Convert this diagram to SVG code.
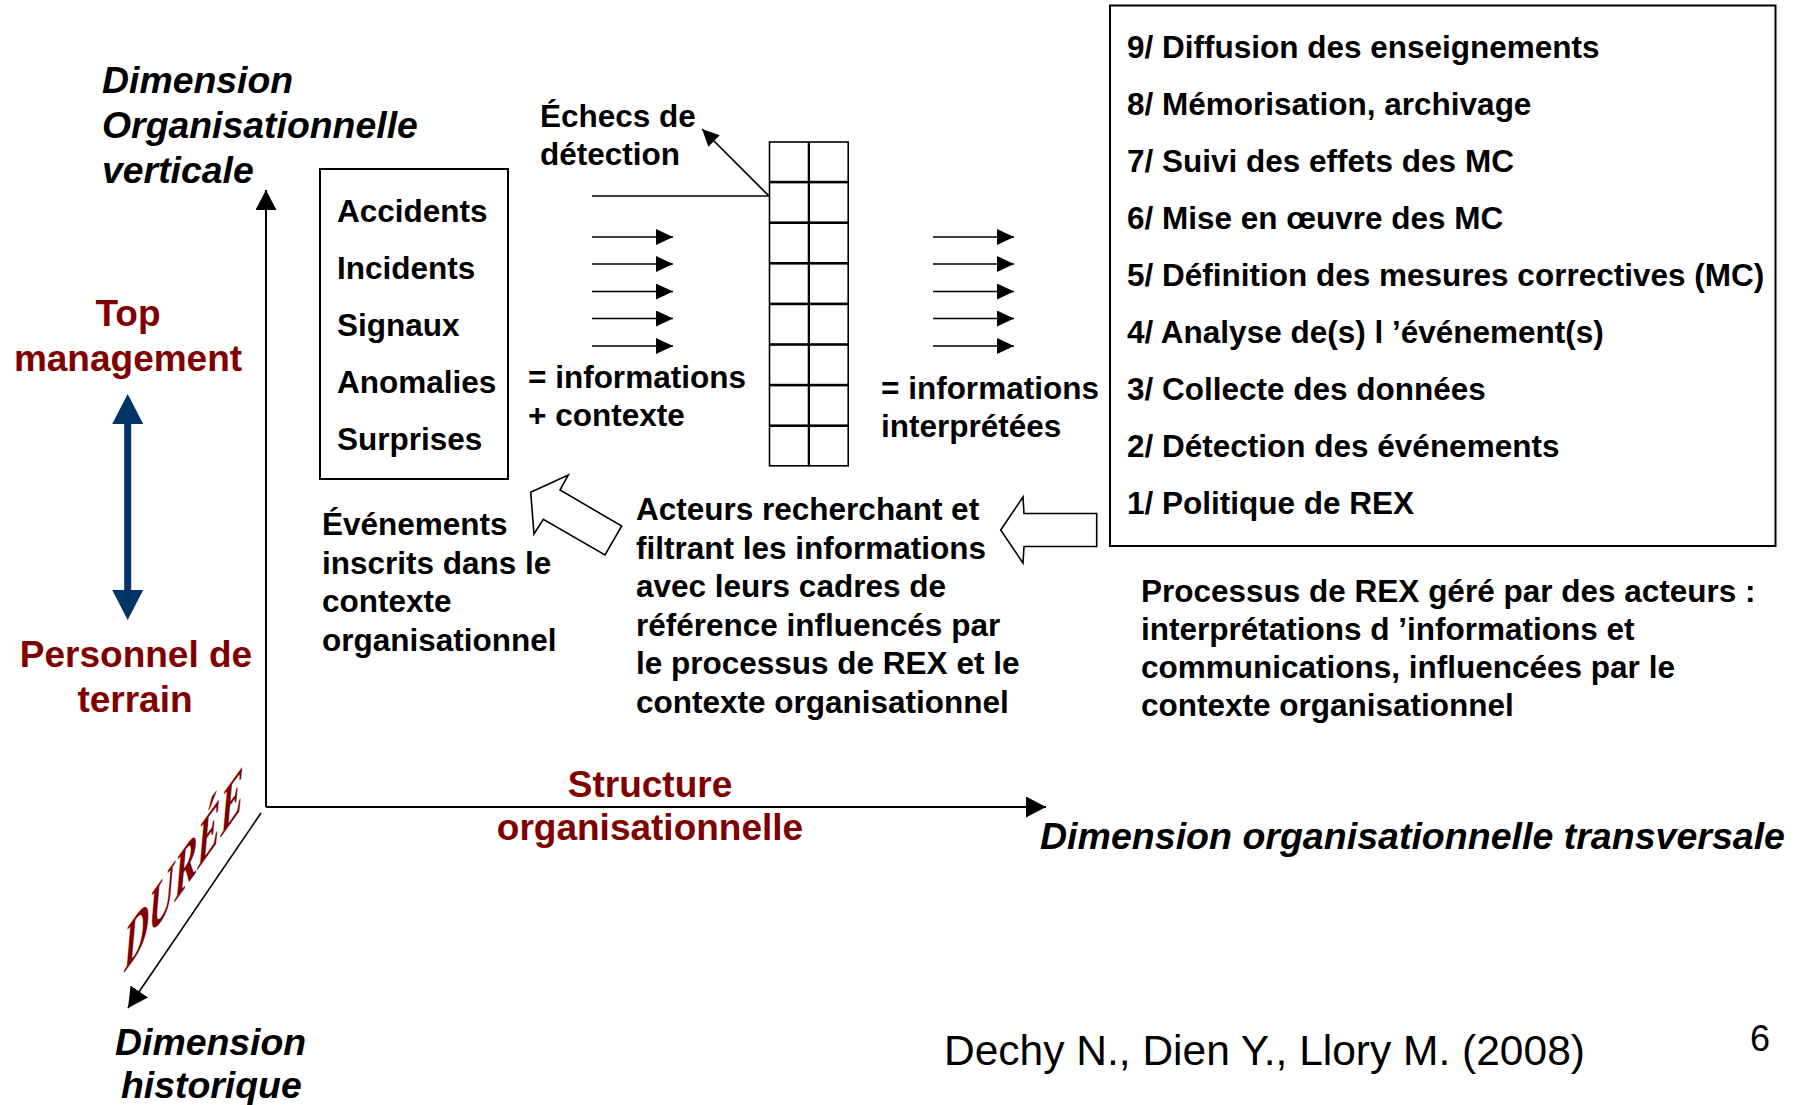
<svg xmlns="http://www.w3.org/2000/svg" width="1806" height="1105" viewBox="0 0 1806 1105">
<style>
text { font-family: "Liberation Sans", Arial, sans-serif; }
.b { font-weight: bold; font-size: 31.5px; fill: #000; }
.bi { font-weight: bold; font-style: italic; font-size: 37.4px; fill: #000; }
.red { font-weight: bold; font-size: 37px; fill: #800000; }
.reg { font-size: 42.5px; fill: #000; }
.duree { font-family: "Liberation Serif", "Times New Roman", serif; font-style: italic; font-weight: bold; font-size: 62px; fill: #800000; }
.box { fill: #fff; stroke: #000; stroke-width: 2; }
.cell { fill: #fff; stroke: #000; stroke-width: 1.6; }
.ln { fill: none; stroke: #000; stroke-width: 2; }
.thin { fill: none; stroke: #000; stroke-width: 1.6; }
.hollow { fill: #fff; stroke: #000; stroke-width: 1.6; stroke-linejoin: miter; }
</style>
<defs>
<marker id="ah" markerUnits="userSpaceOnUse" markerWidth="17" markerHeight="16" refX="17" refY="8" orient="auto"><path d="M0,0 L17,8 L0,16 z" fill="#000"/></marker>
<marker id="axis" markerUnits="userSpaceOnUse" markerWidth="21" markerHeight="21" refX="20" refY="10.5" orient="auto"><path d="M0,0 L20,10.5 L0,21 z" fill="#000"/></marker>
</defs>

<g id="connectors">
  <line class="ln" x1="266" y1="807" x2="266" y2="190" marker-end="url(#axis)"/>
  <line class="ln" x1="266" y1="807" x2="1046" y2="807" marker-end="url(#axis)"/>
  <line class="thin" x1="261" y1="813" x2="128" y2="1008" marker-end="url(#axis)"/>
  <path class="thin" d="M592,196 H769 L702,129" marker-end="url(#ah)"/>
  <line class="thin" x1="592" y1="237" x2="673" y2="237" marker-end="url(#ah)"/>
  <line class="thin" x1="592" y1="264" x2="673" y2="264" marker-end="url(#ah)"/>
  <line class="thin" x1="592" y1="291.5" x2="673" y2="291.5" marker-end="url(#ah)"/>
  <line class="thin" x1="592" y1="318.5" x2="673" y2="318.5" marker-end="url(#ah)"/>
  <line class="thin" x1="592" y1="346" x2="673" y2="346" marker-end="url(#ah)"/>
  <line class="thin" x1="933" y1="237" x2="1014" y2="237" marker-end="url(#ah)"/>
  <line class="thin" x1="933" y1="264" x2="1014" y2="264" marker-end="url(#ah)"/>
  <line class="thin" x1="933" y1="291.5" x2="1014" y2="291.5" marker-end="url(#ah)"/>
  <line class="thin" x1="933" y1="318.5" x2="1014" y2="318.5" marker-end="url(#ah)"/>
  <line class="thin" x1="933" y1="346" x2="1014" y2="346" marker-end="url(#ah)"/>
  <polygon class="hollow" points="530.7,492.3 568.3,475 560,490 621.7,526 605,555 543.3,519.3 534,534"/>
  <polygon class="hollow" points="1000.7,530 1023,497 1024,513.5 1096.7,513.5 1096.7,546.5 1024,546.5 1023,563"/>
  <path d="M127.7,394 L143.2,424 L131.2,424 L131.2,590 L143.2,590 L127.7,620 L112.2,590 L124.2,590 L124.2,424 L112.2,424 Z" fill="#003366"/>
</g>

<g id="axis-vertical-label">
  <text class="bi" x="102" y="93">Dimension</text>
  <text class="bi" x="102" y="138">Organisationnelle</text>
  <text class="bi" x="102" y="183">verticale</text>
</g>

<g id="top-management">
  <text class="red" x="128" y="326" text-anchor="middle">Top</text>
  <text class="red" x="128" y="371" text-anchor="middle">management</text>
</g>

<g id="personnel-terrain">
  <text class="red" x="136" y="667" text-anchor="middle">Personnel de</text>
  <text class="red" x="135" y="712" text-anchor="middle">terrain</text>
</g>

<g id="events-box">
  <rect class="box" x="320" y="169" width="188" height="310"/>
  <text class="b" x="337" y="222">Accidents</text>
  <text class="b" x="337" y="279">Incidents</text>
  <text class="b" x="337" y="336">Signaux</text>
  <text class="b" x="337" y="393">Anomalies</text>
  <text class="b" x="337" y="450">Surprises</text>
</g>

<g id="echecs-label">
  <text class="b" x="540" y="127">Échecs de</text>
  <text class="b" x="540" y="165">détection</text>
</g>

<g id="info-contexte">
  <text class="b" x="528" y="388">= informations</text>
  <text class="b" x="528" y="426">+ contexte</text>
</g>

<g id="filter-grid">
  <rect class="cell" x="769.5" y="142" width="39" height="39.6"/>
  <rect class="cell" x="809.2" y="142" width="39" height="39.6"/>
  <rect class="cell" x="769.5" y="182.6" width="39" height="39.6"/>
  <rect class="cell" x="809.2" y="182.6" width="39" height="39.6"/>
  <rect class="cell" x="769.5" y="223.2" width="39" height="39.6"/>
  <rect class="cell" x="809.2" y="223.2" width="39" height="39.6"/>
  <rect class="cell" x="769.5" y="263.8" width="39" height="39.6"/>
  <rect class="cell" x="809.2" y="263.8" width="39" height="39.6"/>
  <rect class="cell" x="769.5" y="304.4" width="39" height="39.6"/>
  <rect class="cell" x="809.2" y="304.4" width="39" height="39.6"/>
  <rect class="cell" x="769.5" y="345" width="39" height="39.6"/>
  <rect class="cell" x="809.2" y="345" width="39" height="39.6"/>
  <rect class="cell" x="769.5" y="385.6" width="39" height="39.6"/>
  <rect class="cell" x="809.2" y="385.6" width="39" height="39.6"/>
  <rect class="cell" x="769.5" y="426.2" width="39" height="39.6"/>
  <rect class="cell" x="809.2" y="426.2" width="39" height="39.6"/>
</g>

<g id="info-interpretees">
  <text class="b" x="881" y="399">= informations</text>
  <text class="b" x="881" y="437">interprétées</text>
</g>

<g id="rex-process-box">
  <rect class="box" x="1110" y="5.5" width="665.5" height="540.5"/>
  <text class="b" x="1127" y="58">9/ Diffusion des enseignements</text>
  <text class="b" x="1127" y="115">8/ Mémorisation, archivage</text>
  <text class="b" x="1127" y="172">7/ Suivi des effets des MC</text>
  <text class="b" x="1127" y="229">6/ Mise en œuvre des MC</text>
  <text class="b" x="1127" y="286">5/ Définition des mesures correctives (MC)</text>
  <text class="b" x="1127" y="343">4/ Analyse de(s) l ’événement(s)</text>
  <text class="b" x="1127" y="400">3/ Collecte des données</text>
  <text class="b" x="1127" y="457">2/ Détection des événements</text>
  <text class="b" x="1127" y="514">1/ Politique de REX</text>
</g>

<g id="evenements-label">
  <text class="b" x="322" y="535">Événements</text>
  <text class="b" x="322" y="573.5">inscrits dans le</text>
  <text class="b" x="322" y="612">contexte</text>
  <text class="b" x="322" y="650.5">organisationnel</text>
</g>

<g id="acteurs-label">
  <text class="b" x="636" y="520">Acteurs recherchant et</text>
  <text class="b" x="636" y="558.5">filtrant les informations</text>
  <text class="b" x="636" y="597">avec leurs cadres de</text>
  <text class="b" x="636" y="635.5">référence influencés par</text>
  <text class="b" x="636" y="674">le processus de REX et le</text>
  <text class="b" x="636" y="712.5">contexte organisationnel</text>
</g>

<g id="processus-label">
  <text class="b" x="1141" y="602">Processus de REX géré par des acteurs :</text>
  <text class="b" x="1141" y="640">interprétations d ’informations et</text>
  <text class="b" x="1141" y="678">communications, influencées par le</text>
  <text class="b" x="1141" y="716">contexte organisationnel</text>
</g>

<g id="structure-label">
  <text class="red" x="650" y="797" text-anchor="middle">Structure</text>
  <text class="red" x="650" y="840" text-anchor="middle">organisationnelle</text>
</g>

<g id="axis-transversal-label">
  <text class="bi" x="1040" y="849" textLength="745" lengthAdjust="spacingAndGlyphs">Dimension organisationnelle transversale</text>
</g>

<g id="duree-label">
  <text class="duree" transform="translate(124,973) skewY(-54.5) scale(0.56,1)">DURÉE</text>
</g>

<g id="axis-historique-label">
  <text class="bi" x="115" y="1055">Dimension</text>
  <text class="bi" x="121" y="1098">historique</text>
</g>

<g id="citation">
  <text class="reg" x="944" y="1065">Dechy N., Dien Y., Llory M. (2008)</text>
</g>

<g id="page-number">
  <text x="1760" y="1051" text-anchor="middle" style="font-size:36px;fill:#000">6</text>
</g>
</svg>
